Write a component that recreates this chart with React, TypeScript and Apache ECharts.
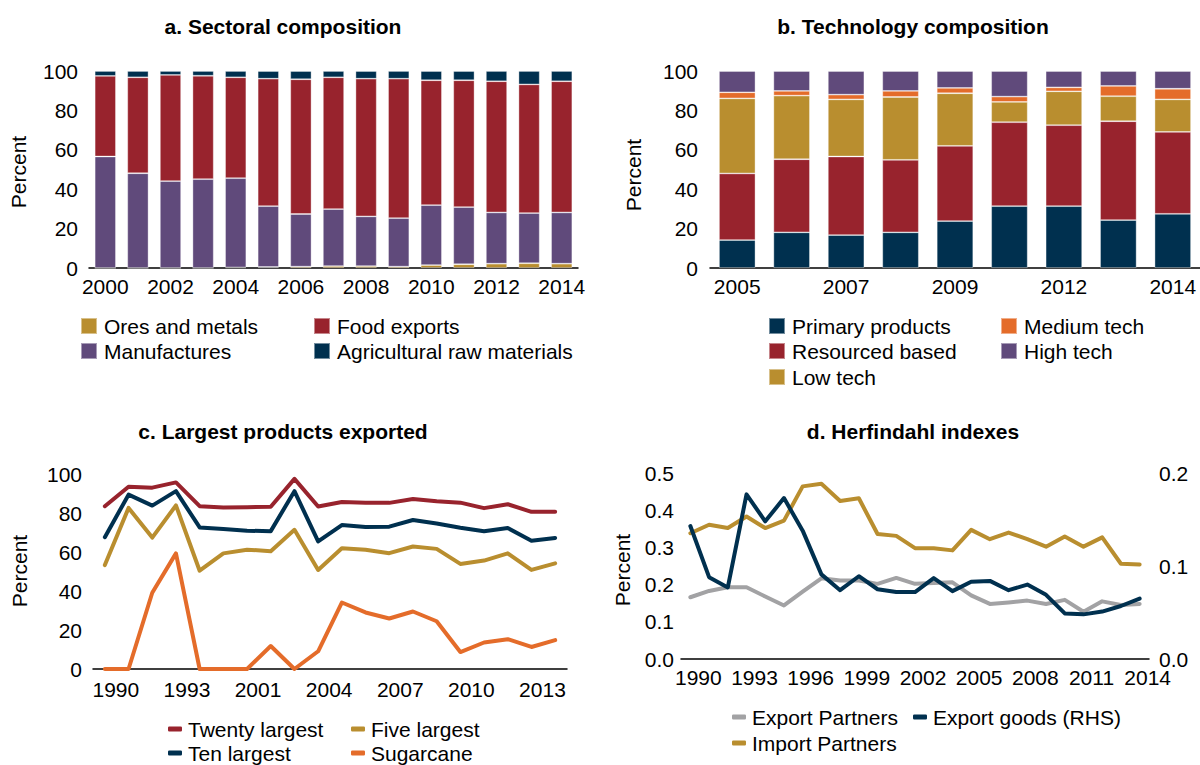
import React, { useEffect, useRef } from "react";
import * as echarts from "echarts";

// ---------- Panel a: Sectoral composition ----------
const yearsA = ["2000", "2001", "2002", "2003", "2004", "2005", "2006", "2007", "2008", "2009", "2010", "2011", "2012", "2013", "2014"];
const oresMetals = [0, 0, 0, 0, 0.3, 0.5, 0.7, 1.0, 1.0, 0.7, 1.5, 1.9, 2.2, 2.4, 2.2];
const manufactures = [56.6, 48.1, 44.1, 45.1, 45.3, 30.9, 26.7, 28.9, 25.2, 24.6, 30.4, 29.0, 26.0, 25.5, 26.0];
const foodExports = [40.9, 48.7, 53.9, 52.5, 51.2, 64.7, 68.4, 66.9, 69.9, 70.8, 63.4, 64.4, 66.6, 65.3, 66.6];
const agriRaw = [2.5, 3.2, 2.0, 2.4, 3.2, 3.9, 4.2, 3.2, 3.9, 3.9, 4.7, 4.7, 5.2, 6.8, 5.2];

// ---------- Panel b: Technology composition ----------
const yearsB = ["2005", "2006", "2007", "2008", "2009", "2010", "2012", "2013", "2014"];
const primaryProducts = [14.2, 18.1, 16.7, 18.1, 23.8, 31.4, 31.4, 24.3, 27.5];
const resourceBased = [33.8, 37.1, 39.9, 36.8, 38.2, 42.6, 41.1, 50.2, 41.6];
const lowTech = [38.1, 32.3, 29.0, 31.9, 26.7, 10.3, 17.2, 12.7, 16.5];
const mediumTech = [3.1, 2.4, 2.4, 3.1, 2.7, 2.7, 2.0, 5.2, 5.4];
const highTech = [10.8, 10.1, 12.0, 10.1, 8.6, 13.0, 8.3, 7.6, 9.0];

// ---------- Panel c: Largest products exported ----------
const yearsC = ["1990", "1991", "1992", "1993", "1994", "2000", "2001", "2002", "2003", "2004", "2005", "2006", "2007", "2008", "2009", "2010", "2011", "2012", "2013", "2014"];
const twentyLargest = [83.5, 93.5, 93.0, 95.7, 83.5, 82.8, 83.0, 83.2, 97.5, 83.3, 85.6, 85.3, 85.2, 87.2, 86.0, 85.3, 82.5, 84.5, 80.6, 80.6];
const tenLargest = [67.6, 89.4, 83.8, 91.2, 72.6, 71.8, 70.9, 70.7, 91.2, 65.4, 73.8, 72.8, 73.0, 76.4, 74.6, 72.4, 70.6, 72.3, 65.8, 67.2];
const fiveLargest = [53.3, 82.6, 67.4, 83.9, 50.4, 59.3, 61.2, 60.4, 71.4, 50.8, 61.9, 61.1, 59.4, 62.8, 61.6, 53.9, 55.6, 59.3, 50.8, 54.2];
const sugarcane = [0, 0, 39.1, 59.3, 0, 0, 0, 11.8, 0, 9.1, 34.1, 29.0, 25.9, 29.5, 24.5, 8.7, 13.6, 15.3, 11.3, 14.8];

// ---------- Panel d: Herfindahl indexes ----------
const yearsD = ["1990", "1991", "1992", "1993", "1994", "1995", "1996", "1997", "1998", "1999", "2000", "2001", "2002", "2003", "2004", "2005", "2006", "2007", "2008", "2009", "2010", "2011", "2012", "2013", "2014"];
const exportPartners = [0.166, 0.183, 0.193, 0.193, 0.168, 0.144, 0.181, 0.217, 0.211, 0.211, 0.202, 0.218, 0.202, 0.204, 0.206, 0.171, 0.148, 0.152, 0.157, 0.148, 0.159, 0.127, 0.155, 0.145, 0.148];
const importPartners = [0.338, 0.361, 0.352, 0.383, 0.352, 0.372, 0.464, 0.471, 0.425, 0.432, 0.336, 0.331, 0.298, 0.298, 0.292, 0.347, 0.322, 0.340, 0.322, 0.302, 0.329, 0.302, 0.327, 0.256, 0.254];
const exportGoods = [0.143, 0.088, 0.077, 0.177, 0.148, 0.173, 0.138, 0.091, 0.074, 0.089, 0.075, 0.072, 0.072, 0.087, 0.073, 0.083, 0.084, 0.074, 0.080, 0.069, 0.049, 0.048, 0.051, 0.057, 0.065];

const FONT = "'Liberation Sans', Arial, Helvetica, sans-serif";
const NAVY = "#00304f";
const RED = "#98232d";
const PURPLE = "#604a7b";
const GOLD = "#b98e2f";
const ORANGE = "#e46c2a";
const GRAY = "#a2a2a4";
const TXT = "#000";
const FS = 21;

const txt = { color: TXT, fontSize: FS, fontFamily: FONT };

function catAxis(gridIndex: number, data: string[], interval: number, shift: number, margin: number) {
  return {
    type: "category",
    gridIndex,
    data,
    boundaryGap: true,
    axisLine: { lineStyle: { color: "#000", width: 1.5 } },
    axisTick: { show: false },
    axisLabel: { ...txt, interval, margin, padding: [0, 0, 0, shift] },
    splitLine: { show: false },
  };
}

function valAxis(gridIndex: number, min: number, max: number, interval: number, margin: number, dec: number, position = "left") {
  return {
    type: "value",
    gridIndex,
    position,
    min,
    max,
    interval,
    axisLine: { show: false },
    axisTick: { show: false },
    splitLine: { show: false },
    axisLabel: { ...txt, margin, formatter: (v: number) => v.toFixed(dec) },
  };
}

function barSeries(name: string, data: number[], color: string, axis: number, stack: string, gap: string) {
  return {
    name,
    type: "bar",
    stack,
    data,
    xAxisIndex: axis,
    yAxisIndex: axis,
    barCategoryGap: gap,
    itemStyle: { color, borderColor: "rgba(255,255,255,0.45)", borderWidth: 0.8 },
  };
}

function lineSeries(name: string, data: number[], color: string, xAxisIndex: number, yAxisIndex: number) {
  return {
    name,
    type: "line",
    data,
    xAxisIndex,
    yAxisIndex,
    symbol: "none",
    lineStyle: { color, width: 4, cap: "round", join: "round" },
    itemStyle: { color },
  };
}

// one legend component per entry, placed by icon-left x and row-centre y
function legendItem(name: string, left: number, cy: number, kind: "box" | "line") {
  const box = kind === "box";
  return {
    data: [name],
    left,
    top: cy - FS / 2,
    padding: 0,
    orient: "vertical",
    icon: box ? "rect" : "roundRect",
    itemWidth: box ? 16 : 14,
    itemHeight: box ? 16 : 5,
    selectedMode: false,
    textStyle: { ...txt, padding: [0, 0, 0, box ? 2 : 1] },
  };
}

function titleText(text: string, x: number, y: number) {
  return {
    type: "text",
    x,
    y,
    style: { text, fill: TXT, font: `bold ${FS}px ${FONT}`, textAlign: "center", textVerticalAlign: "middle" },
  };
}

function yName(x: number, y: number) {
  return {
    type: "text",
    x,
    y,
    rotation: Math.PI / 2,
    style: { text: "Percent", fill: TXT, font: `${FS}px ${FONT}`, textAlign: "center", textVerticalAlign: "middle" },
  };
}

export default function App() {
  const ref = useRef<HTMLDivElement>(null);
  useEffect(() => {
    if (!ref.current) return;
    const chart = echarts.init(ref.current, null, { renderer: "svg" });
    const option: any = {
      animation: false,
      backgroundColor: "#fff",
      textStyle: { fontFamily: FONT },
      grid: [
        { left: 89, top: 71, width: 489, height: 197 },
        { left: 710, top: 71, width: 490, height: 197 },
        { left: 93, top: 474, width: 474, height: 195 },
        { left: 681, top: 473, width: 468, height: 186 },
      ],
      xAxis: [
        catAxis(0, yearsA, 1, 0, 8),
        catAxis(1, yearsB, 1, 0, 8),
        catAxis(2, yearsC, 2, 22, 10),
        catAxis(3, yearsD, 2, 16, 8),
      ],
      yAxis: [
        valAxis(0, 0, 100, 20, 11, 0),
        valAxis(1, 0, 100, 20, 12, 0),
        valAxis(2, 0, 100, 20, 11, 0),
        valAxis(3, 0, 0.5, 0.1, 7, 1),
        valAxis(3, 0, 0.2, 0.1, 10, 1, "right"),
      ],
      legend: [
        legendItem("Ores and metals", 80, 326, "box"),
        legendItem("Manufactures", 80, 351, "box"),
        legendItem("Food exports", 313, 326, "box"),
        legendItem("Agricultural raw materials", 313, 351, "box"),
        legendItem("Primary products", 768, 326, "box"),
        legendItem("Resourced based", 768, 351, "box"),
        legendItem("Low tech", 768, 377, "box"),
        legendItem("Medium tech", 1000, 326, "box"),
        legendItem("High tech", 1000, 351, "box"),
        legendItem("Twenty largest", 168, 729, "line"),
        legendItem("Ten largest", 168, 753, "line"),
        legendItem("Five largest", 351, 729, "line"),
        legendItem("Sugarcane", 351, 753, "line"),
        legendItem("Export Partners", 732, 717, "line"),
        legendItem("Import Partners", 732, 743, "line"),
        legendItem("Export goods (RHS)", 913, 717, "line"),
      ],
      series: [
        barSeries("Ores and metals", oresMetals, GOLD, 0, "a", "35%"),
        barSeries("Manufactures", manufactures, PURPLE, 0, "a", "35%"),
        barSeries("Food exports", foodExports, RED, 0, "a", "35%"),
        barSeries("Agricultural raw materials", agriRaw, NAVY, 0, "a", "35%"),
        barSeries("Primary products", primaryProducts, NAVY, 1, "b", "33%"),
        barSeries("Resourced based", resourceBased, RED, 1, "b", "33%"),
        barSeries("Low tech", lowTech, GOLD, 1, "b", "33%"),
        barSeries("Medium tech", mediumTech, ORANGE, 1, "b", "33%"),
        barSeries("High tech", highTech, PURPLE, 1, "b", "33%"),
        lineSeries("Twenty largest", twentyLargest, RED, 2, 2),
        lineSeries("Ten largest", tenLargest, NAVY, 2, 2),
        lineSeries("Five largest", fiveLargest, GOLD, 2, 2),
        lineSeries("Sugarcane", sugarcane, ORANGE, 2, 2),
        lineSeries("Export Partners", exportPartners, GRAY, 3, 3),
        lineSeries("Import Partners", importPartners, GOLD, 3, 3),
        lineSeries("Export goods (RHS)", exportGoods, NAVY, 3, 4),
      ],
      graphic: [
        titleText("a. Sectoral composition", 283, 26),
        titleText("b. Technology composition", 913, 26),
        titleText("c. Largest products exported", 283, 431),
        titleText("d. Herfindahl indexes", 913, 431),
        yName(18, 172),
        yName(633, 175),
        yName(19, 571),
        yName(622, 570),
      ],
    };
    chart.setOption(option);
    return () => chart.dispose();
  }, []);
  return (
    <div
      ref={ref}
      style={{ position: "absolute", left: 0, top: 0, width: 1200, height: 765, background: "#fff" }}
    />
  );
}
